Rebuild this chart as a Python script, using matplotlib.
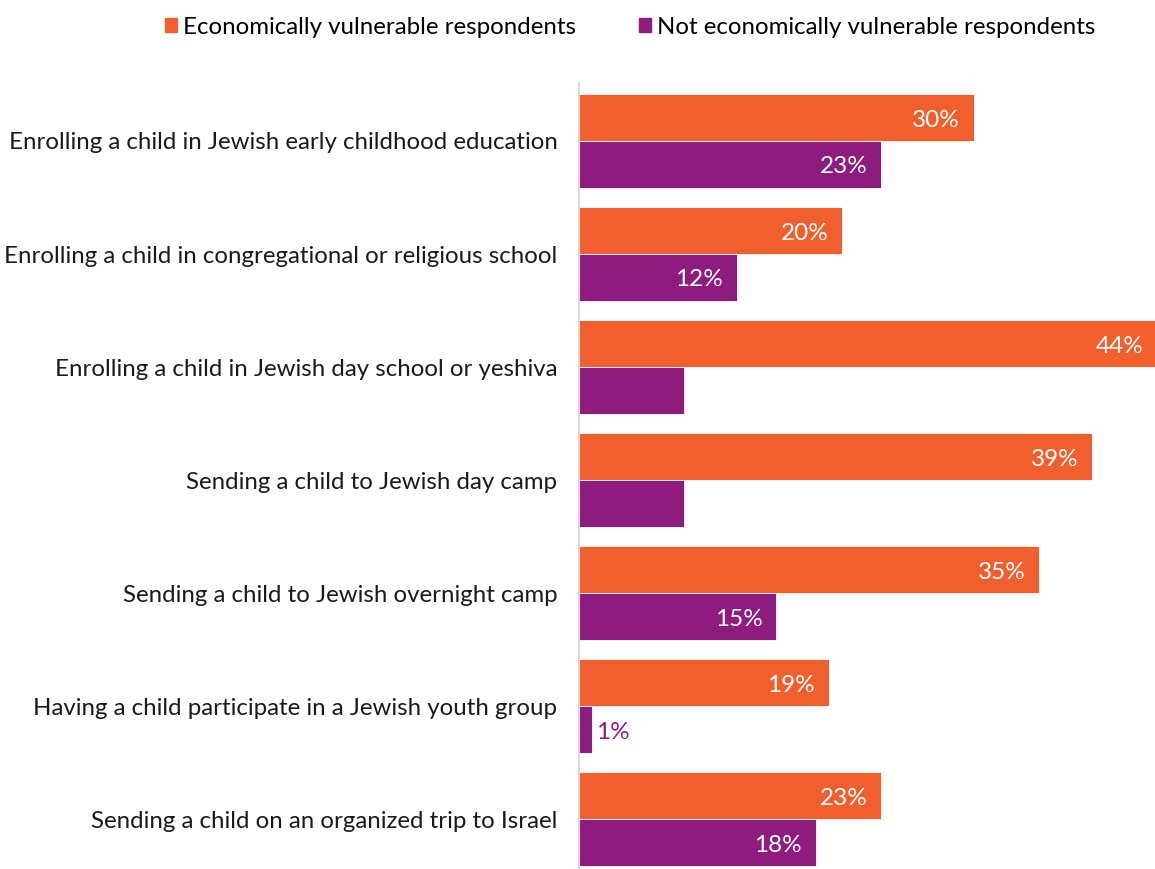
import matplotlib.pyplot as plt
import numpy as np
from matplotlib.patches import Patch

plt.rcParams["font.family"] = ["Lato", "DejaVu Sans"]

categories = [
    "Enrolling a child in Jewish early childhood education",
    "Enrolling a child in congregational or religious school",
    "Enrolling a child in Jewish day school or yeshiva",
    "Sending a child to Jewish day camp",
    "Sending a child to Jewish overnight camp",
    "Having a child participate in a Jewish youth group",
    "Sending a child on an organized trip to Israel",
]
vulnerable = [30, 20, 44, 39, 35, 19, 23]
not_vulnerable = [23, 12, 8, 8, 15, 1, 18]
# the reference shows no value on these bars
show_not_vulnerable = [True, True, False, False, True, True, True]

series_names = ["Economically vulnerable respondents",
                "Not economically vulnerable respondents"]
orange = "#F05F2D"
purple = "#8E1C7F"

fig = plt.figure(figsize=(11.55, 8.69), dpi=100)
ax = fig.add_axes([579 / 1155, 0.0, 1 - 579 / 1155, (869 - 83) / 869])

y = np.arange(len(categories))
h = 0.415
ax.barh(y - h / 2, vulnerable, height=h, color=orange, edgecolor="white", linewidth=0.6)
ax.barh(y + h / 2, not_vulnerable, height=h, color=purple, edgecolor="white", linewidth=0.6)

fs = 17.3
vfs = 17.5
dy = 0.022  # value labels sit slightly below the bar centre
for i, v in enumerate(vulnerable):
    ax.text(v - 1.05, i - h / 2 + dy, f"{v}%", ha="right", va="center",
            color="white", fontsize=vfs)
for i, v in enumerate(not_vulnerable):
    if not show_not_vulnerable[i]:
        continue
    if v < 5:
        ax.text(v + 0.3, i + h / 2 + dy, f"{v}%", ha="left", va="center",
                color=purple, fontsize=vfs)
    else:
        ax.text(v - 1.05, i + h / 2 + dy, f"{v}%", ha="right", va="center",
                color="white", fontsize=vfs)

ax.set_xlim(0, 43.8)
ax.set_ylim(6.44, -0.513)
ax.set_yticks(y)
ax.set_yticklabels(categories, fontsize=fs, color="#1a1a1a")
ax.tick_params(axis="y", length=0, pad=15.5)
ax.set_xticks([])
for s in ["top", "right", "bottom"]:
    ax.spines[s].set_visible(False)
ax.spines["left"].set_color("#d9d9d9")
ax.spines["left"].set_linewidth(1.5)

handles = [Patch(color=orange), Patch(color=purple)]
fig.legend(handles, series_names, loc="center", bbox_to_anchor=(630 / 1155, 1 - 27 / 869),
           ncol=2, frameon=False, fontsize=fs, handlelength=0.5, handleheight=0.5,
           handletextpad=0.25, columnspacing=2.6)

fig.savefig("out.png", dpi=100)
